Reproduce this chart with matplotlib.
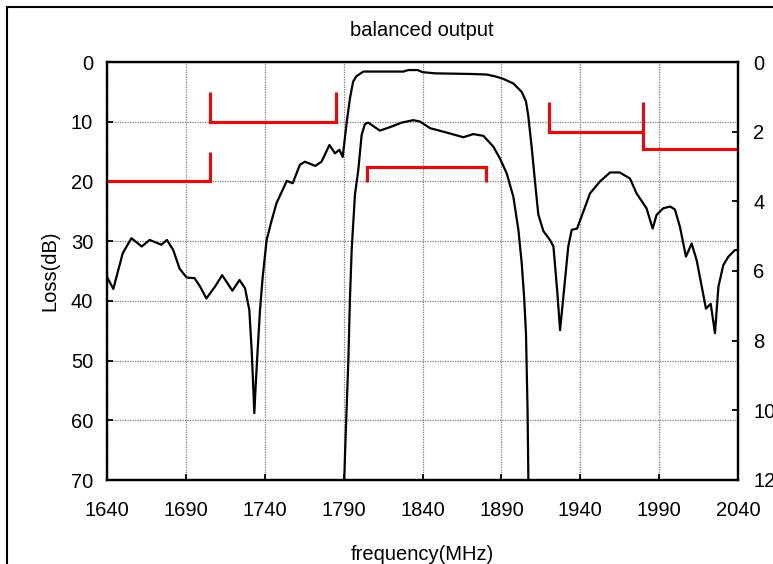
import numpy as np
import matplotlib
matplotlib.use("Agg")
import matplotlib.pyplot as plt
from matplotlib.lines import Line2D

plt.rcParams["font.family"] = ["Liberation Sans", "DejaVu Sans"]

# wide response, read against the left axis (dB)
freqWide = [1640, 1644, 1650, 1655.5, 1662, 1667, 1674.5, 1678, 1682, 1686,
            1690.5, 1695.5, 1699, 1703, 1708.5, 1713, 1719.5, 1724, 1727.5, 1730.2,
            1731.7, 1732.7, 1733.4, 1734.2, 1735.5, 1737, 1738.7, 1741.2, 1744.4, 1747.5,
            1754, 1757.7, 1762.3, 1765.5, 1772, 1776, 1781, 1784.5, 1787.3, 1789.4,
            1792, 1794, 1796, 1798, 1802.5, 1828, 1831, 1837, 1840, 1848,
            1870, 1880.7, 1886, 1891, 1897.6, 1902.9, 1905.6, 1907, 1909.3, 1911.3,
            1913.4, 1916.6, 1920.8, 1923, 1925.5, 1927.2, 1929.3, 1932.4, 1934.6, 1938,
            1946.2, 1952.5, 1958.9, 1965, 1971.5, 1975.7, 1982, 1985.9, 1988.4, 1992.6,
            1997, 2000, 2003.2, 2007, 2010.6, 2013.8, 2017, 2019.7, 2022.7, 2025.4,
            2027.6, 2030.7, 2033.9, 2038, 2040]
lossWide = [36.0, 38.0, 32.0, 29.5, 30.9, 29.8, 30.6, 29.8, 31.5, 34.6,
            36.1, 36.2, 37.6, 39.6, 37.6, 35.7, 38.3, 36.5, 37.9, 41.5,
            48.2, 54.4, 58.8, 54.4, 48.2, 41.5, 36.0, 29.8, 26.5, 23.6,
            19.9, 20.3, 17.2, 16.7, 17.4, 16.7, 13.9, 15.3, 14.7, 15.9,
            10.0, 6.1, 3.3, 2.4, 1.6, 1.6, 1.35, 1.35, 1.7, 1.9,
            2.0, 2.1, 2.4, 2.8, 3.6, 5.0, 6.6, 8.9, 14.5, 20.0,
            25.5, 28.3, 29.8, 30.9, 38.7, 44.9, 39.3, 30.9, 28.1, 27.9,
            22.0, 20.0, 18.5, 18.5, 19.5, 22.0, 24.5, 27.9, 25.6, 24.5,
            24.2, 24.7, 27.6, 32.6, 30.4, 33.2, 37.6, 41.3, 40.5, 45.4,
            37.6, 34.0, 32.6, 31.5, 31.5]

# passband detail, read against the right axis
freqPass = [1790.2, 1791, 1793, 1794, 1795.1, 1796, 1797.2, 1799.3, 1801.4, 1803.5,
            1805.6, 1808.8, 1813, 1819.4, 1826.8, 1834.2, 1838.4, 1844.8, 1853.2, 1865.9,
            1872.2, 1878.6, 1884.9, 1889.1, 1893.4, 1897.6, 1900.8, 1902.9, 1904.4, 1905.6,
            1906.6, 1907.2]
lossPass = [12.3, 11.1, 8.56, 6.8, 5.4, 4.7, 3.8, 3.1, 2.1, 1.78,
            1.74, 1.84, 1.97, 1.87, 1.74, 1.67, 1.71, 1.90, 2.0, 2.16,
            2.07, 2.12, 2.43, 2.77, 3.2, 3.87, 4.82, 5.78, 6.74, 7.79,
            10.0, 12.3]

# spec masks (left axis)
specLowX = [1640, 1705, 1705]
specLowY = [20, 20, 15]
specMidX = [1705, 1705, 1785, 1785]
specMidY = [5, 10, 10, 5]
# spec masks (right axis)
specPassX = [1805, 1805, 1880, 1880]
specPassY = [3.45, 3.0, 3.0, 3.45]
specHighAX = [1920, 1920, 1980]
specHighAY = [1.15, 2.0, 2.0]
specHighBX = [1980, 1980, 2040]
specHighBY = [1.15, 2.5, 2.5]

xTicks = np.arange(1640, 2041, 50)
leftTicks = np.arange(0, 71, 10)
rightTicks = np.arange(0, 13, 2)

fs = 14.5

fig = plt.figure(figsize=(7.73, 5.64), dpi=100)
ax = fig.add_axes([107 / 773, 1 - 480 / 564, 631 / 773, 418 / 564])
ax2 = ax.twinx()

red = dict(color="#ff0000", lw=2.2, solid_capstyle="butt", solid_joinstyle="miter")
ax.plot(freqWide, lossWide, color="black", lw=1.6)
ax.plot(specLowX, specLowY, **red)
ax.plot(specMidX, specMidY, **red)
ax2.plot(freqPass, lossPass, color="black", lw=1.6)
ax2.plot(specPassX, specPassY, **red)
ax2.plot(specHighAX, specHighAY, **red)
ax2.plot(specHighBX, specHighBY, **red)

ax.set_xlim(1640, 2040)
ax.set_ylim(70, 0)
ax2.set_ylim(12, 0)
ax.set_xticks(xTicks)
ax.set_yticks(leftTicks)
ax2.set_yticks(rightTicks)

ax.grid(True, color="#7a7a7a", linestyle=(0, (1, 1)), lw=0.9)
ax.set_axisbelow(True)

for a in (ax, ax2):
    for s in a.spines.values():
        s.set_linewidth(1.6)
ax.tick_params(axis="both", direction="in", length=4.5, width=1.3, labelsize=fs)
ax.tick_params(axis="y", pad=10)
ax.tick_params(axis="x", pad=15)
ax2.tick_params(axis="y", direction="in", length=4.5, width=1.3, labelsize=fs, pad=11)

ax.set_ylabel("Loss(dB)", fontsize=fs, labelpad=8)
ax.set_xlabel("frequency(MHz)", fontsize=fs, labelpad=18)
fig.text(422 / 773, 1 - 30 / 564, "balanced output", fontsize=fs, ha="center", va="center")

# outer chart frame (cropped on the right and bottom)
fig.add_artist(Line2D([7 / 773, 7 / 773, 1.01], [-0.01, 1 - 7 / 564, 1 - 7 / 564],
                      transform=fig.transFigure, color="black", lw=1.5))

fig.savefig("out.png", dpi=100)
